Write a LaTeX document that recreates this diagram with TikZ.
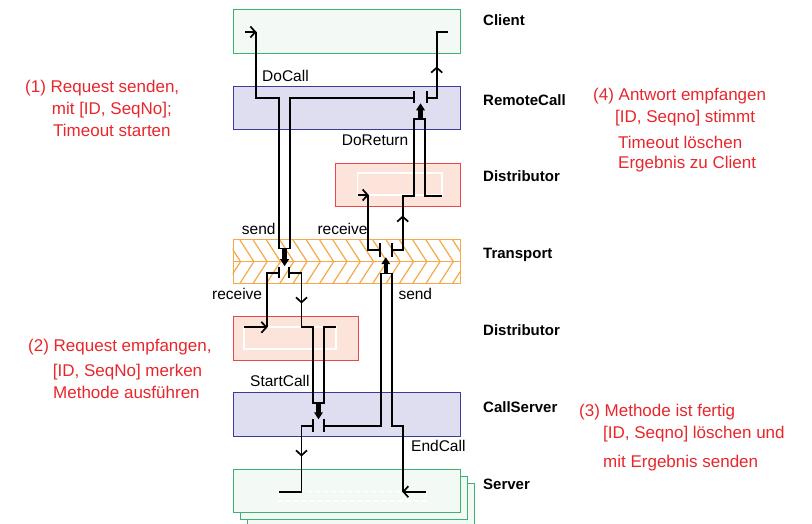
\documentclass[tikz,border=0pt]{standalone}
\usepackage{fontspec}
\setmainfont{Liberation Sans}
\usetikzlibrary{arrows.meta}

\definecolor{srvgreen}{HTML}{3CB371}
\definecolor{srvfill}{HTML}{F3F9F4}
\definecolor{rcblue}{HTML}{3B3B9B}
\definecolor{rcfill}{HTML}{DEDEF0}
\definecolor{distred}{HTML}{E8484B}
\definecolor{distfill}{HTML}{FCE4DA}
\definecolor{trorange}{HTML}{F6A84A}
\definecolor{noteRed}{HTML}{E8262B}

\tikzset{
  layerbox/.style={draw, line width=1pt, inner sep=0pt, minimum width=227pt, minimum height=43.5pt},
  smallbox/.style={draw, line width=1pt, inner sep=0pt, minimum width=125pt, minimum height=43.5pt},
  wire/.style={line width=1.7pt, line join=miter},
  barb/.style={wire, -{Straight Barb[length=5pt,width=11pt,line width=1.7pt]}},
  ctrl/.style={line width=4.6pt, -{Triangle[length=7pt,width=8.5pt]}},
  hatch/.style={draw=trorange, line width=1.2pt},
  inner/.style={draw=white, line width=1.3pt},
  layername/.style={anchor=base west, inner sep=0pt, font=\fontsize{15}{18}\selectfont\bfseries},
  wirename/.style={anchor=base west, inner sep=0pt, font=\fontsize{15.5}{18}\selectfont},
  note/.style={anchor=base west, inner sep=0pt, text=noteRed, font=\fontsize{17}{20}\selectfont}
}

\begin{document}
\begin{tikzpicture}[x=1pt,y=-1pt]
\useasboundingbox (0,0) rectangle (812,524);

% ---- layer boxes ----
\node[layerbox, draw=srvgreen, fill=srvfill] (client) at (346.5,31.5) {};
\node[layerbox, draw=rcblue, fill=rcfill] (remote) at (346.5,108) {};
\node[smallbox, draw=distred, fill=distfill] (distA) at (397.5,185) {};
\draw[inner] (357.7,173) rectangle (442,195);

% transport layer with chevron hatching
\node[layerbox, draw=trorange, fill=white] (transport) at (346.5,261.7) {};
\begin{scope}
  \clip (transport.south west) rectangle (transport.north east);
  \foreach \x in {200,213.3,...,480} {
    \draw[hatch] (\x,240) -- ++(14,21.7);
    \draw[hatch] (\x,283.3) -- ++(14,-21.7);
  }
\end{scope}
\draw[hatch] (transport.west) -- (transport.east);
\node[layerbox, draw=trorange] at (transport) {};

\node[smallbox, draw=distred, fill=distfill] (distB) at (295.5,338.5) {};
\draw[inner] (244,327) rectangle (336,349);

\node[layerbox, draw=rcblue, fill=rcfill] (callsrv) at (346.5,414.5) {};

% stacked server boxes
\node[layerbox, draw=srvgreen, fill=srvfill] (server3) at (360.5,505) {};
\node[layerbox, draw=srvgreen, fill=srvfill] (server2) at (353.5,498) {};
\node[layerbox, draw=srvgreen, fill=srvfill] (server) at (346.5,491) {};
\draw[inner, dashed, dash pattern=on 5pt off 3pt] (279,491.7) rectangle (426,501);

% ---- switches (pairs of contact bars) ----
\foreach \a/\b/\t/\m in {414.3/426.7/90.7/103.3, 279.3/289.3/266.7/278.3, 380/391.7/243.3/256.7, 312.7/324.3/419.3/432}
  { \draw[wire] (\a,\t) -- (\a,\m); \draw[wire] (\b,\t) -- (\b,\m); }

% ---- control arrows driving the switches ----
\draw[ctrl] (420.5,119.3) -- (420.5,103.3);
\draw[ctrl] (284.6,248.5) -- (284.6,266.2);
\draw[ctrl] (385.8,273.5) -- (385.8,257.2);
\draw[ctrl] (318.5,403.3) -- (318.5,419.3);

% ---- DoCall: client -> transport send ----
\draw[barb] (245,32) -- (256.5,32);
\draw[wire] (256,32) -- (256,97.7) -- (279.3,97.7) -- (279.3,248.5) -- (290,248.5) -- (290,97.7) -- (414.3,97.7);

% ---- result back to client ----
\draw[wire] (426.7,97.7) -- (436.7,97.7) -- (436.7,31.7) -- (448.3,31.7);
\draw[barb] (436.7,76) -- (436.7,66.5);

% ---- DoReturn: transport receive -> distributor -> remote call ----
\draw[wire] (391.7,250) -- (402.7,250) -- (402.7,196) -- (414.3,196) -- (414.3,119.3) -- (424.7,119.3) -- (424.7,196) -- (441.7,196);
\draw[barb] (402.7,225) -- (402.7,215.5);
\draw[wire] (380,250) -- (368.3,250) -- (368.3,195);
\draw[barb] (358.3,195) -- (368.8,195);

% ---- receive at server side ----
\draw[wire] (279.3,272.7) -- (267,272.7) -- (267,327.3);
\draw[barb] (244.3,327.3) -- (267.5,327.3);
\draw[wire] (289.3,272.7) -- (301.5,272.7) -- (301.5,327.3) -- (312.7,327.3) -- (312.7,403.3) -- (324.3,403.3) -- (324.3,327.3) -- (336,327.3);
\draw[barb] (301.5,293) -- (301.5,303.5);

% ---- StartCall to server ----
\draw[wire] (312.7,425.7) -- (301.5,425.7) -- (301.5,491.7) -- (279.3,491.7);
\draw[barb] (301.5,446) -- (301.5,456.5);

% ---- EndCall: server -> transport send ----
\draw[wire] (324.3,425.7) -- (380.7,425.7) -- (380.7,273.5) -- (391.7,273.5) -- (391.7,426) -- (402.7,426) -- (402.7,491.7);
\draw[barb] (426,491.7) -- (402.2,491.7);

% ---- wire labels ----
\node[wirename] (lDoCall) at (262,81.5) {DoCall};
\node[wirename] (lDoReturn) at (341.7,145.5) {DoReturn};
\node[wirename] (lSendA) at (241.7,234.5) {send};
\node[wirename] (lRecvA) at (317.3,234.5) {receive};
\node[wirename, anchor=base east] (lRecvB) at (262.3,299) {receive};
\node[wirename] (lSendB) at (398.3,299) {send};
\node[wirename] (lStart) at (250,386) {StartCall};
\node[wirename] (lEnd) at (411,451.5) {EndCall};

% ---- layer names ----
\node[layername] (nClient) at (483,25.4) {Client};
\node[layername] (nRemote) at (483,105.4) {RemoteCall};
\node[layername] (nDistA) at (483,181.4) {Distributor};
\node[layername] (nTrans) at (483,258.4) {Transport};
\node[layername] (nDistB) at (483,335.4) {Distributor};
\node[layername] (nCallSrv) at (483,412.4) {CallServer};
\node[layername] (nServer) at (483,489.4) {Server};

% ---- step notes ----
\node[note] (n1a) at (25,92.5) {(1) Request senden,};
\node[note] (n1b) at (51.7,114.5) {mit [ID, SeqNo];};
\node[note] (n1c) at (53,137) {Timeout starten};

\node[note] (n2a) at (28,351) {(2) Request empfangen,};
\node[note] (n2b) at (52.7,376) {[ID, SeqNo] merken};
\node[note] (n2c) at (53,398.5) {Methode ausführen};

\node[note] (n4a) at (593,101) {(4) Antwort empfangen};
\node[note] (n4b) at (615,123) {[ID, Seqno] stimmt};
\node[note] (n4c) at (618,148.5) {Timeout löschen};
\node[note] (n4d) at (618,169) {Ergebnis zu Client};

\node[note] (n3a) at (579,416) {(3) Methode ist fertig};
\node[note] (n3b) at (603,438) {[ID, Seqno] löschen und};
\node[note] (n3c) at (603,467.5) {mit Ergebnis senden};
\end{tikzpicture}
\end{document}
